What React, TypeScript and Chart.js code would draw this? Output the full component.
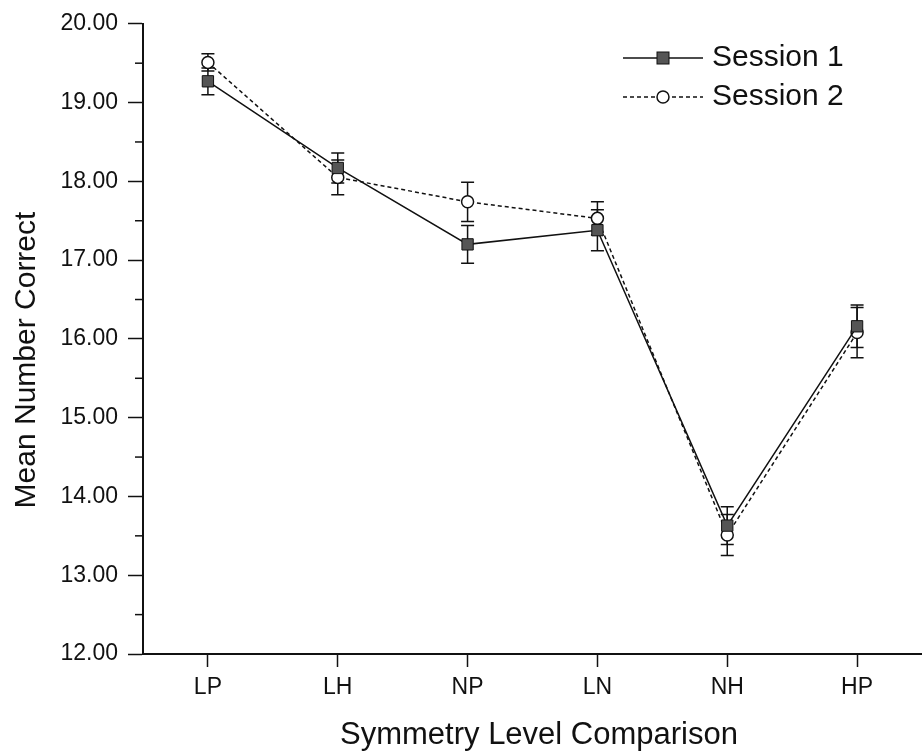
import React, { useEffect, useRef } from "react";
import { Chart, registerables } from "chart.js";

Chart.register(...registerables);

const categories = ["LP", "LH", "NP", "LN", "NH", "HP"];
const session1 = [19.27, 18.17, 17.2, 17.38, 13.63, 16.16];
const session1Err = [0.17, 0.19, 0.24, 0.26, 0.24, 0.27];
const session2 = [19.51, 18.05, 17.74, 17.53, 13.51, 16.08];
const session2Err = [0.11, 0.22, 0.25, 0.21, 0.26, 0.32];
const seriesNames = ["Session 1", "Session 2"];
const yTitle = "Mean Number Correct";
const xTitle = "Symmetry Level Comparison";
const yMin = 12;
const yMax = 20;

const FONT = "'Liberation Sans', Arial, sans-serif";
const INK = "#111";

const errorBarPlugin = {
  id: "errorBars",
  beforeDatasetsDraw(chart: any) {
    const ctx = chart.ctx;
    const y = chart.scales.y;
    const errs = [session1Err, session2Err];
    const vals = [session1, session2];
    ctx.save();
    ctx.strokeStyle = INK;
    ctx.lineWidth = 1.5;
    ctx.setLineDash([]);
    for (let d = 0; d < 2; d++) {
      const meta = chart.getDatasetMeta(d);
      meta.data.forEach((pt: any, i: number) => {
        const x = pt.x;
        const top = y.getPixelForValue(vals[d][i] + errs[d][i]);
        const bot = y.getPixelForValue(vals[d][i] - errs[d][i]);
        ctx.beginPath();
        ctx.moveTo(x, top);
        ctx.lineTo(x, bot);
        ctx.moveTo(x - 6.5, top);
        ctx.lineTo(x + 6.5, top);
        ctx.moveTo(x - 6.5, bot);
        ctx.lineTo(x + 6.5, bot);
        ctx.stroke();
      });
    }
    ctx.restore();
  },
};

const decorPlugin = {
  id: "decor",
  afterDraw(chart: any) {
    const ctx = chart.ctx;
    const y = chart.scales.y;
    const area = chart.chartArea;
    ctx.save();
    // minor ticks on y axis
    ctx.strokeStyle = INK;
    ctx.lineWidth = 1.5;
    for (let v = yMin + 0.5; v < yMax; v += 1) {
      const py = y.getPixelForValue(v);
      ctx.beginPath();
      ctx.moveTo(area.left - 8, py);
      ctx.lineTo(area.left, py);
      ctx.stroke();
    }
    // axis titles
    ctx.fillStyle = INK;
    ctx.textAlign = "center";
    ctx.textBaseline = "middle";
    ctx.font = `31px ${FONT}`;
    ctx.fillText(xTitle, 539, 735);
    ctx.font = `30px ${FONT}`;
    ctx.save();
    ctx.translate(27, 360);
    ctx.rotate(-Math.PI / 2);
    ctx.fillText(yTitle, 0, 0);
    ctx.restore();
    // legend
    const rows = [58, 97];
    rows.forEach((ly, k) => {
      ctx.strokeStyle = INK;
      ctx.lineWidth = 1.5;
      ctx.setLineDash(k === 0 ? [] : [4, 3]);
      ctx.beginPath();
      ctx.moveTo(623, ly);
      ctx.lineTo(703, ly);
      ctx.stroke();
      ctx.setLineDash([]);
      if (k === 0) {
        ctx.fillStyle = "#555";
        ctx.fillRect(657, ly - 6, 12, 12);
        ctx.lineWidth = 1;
        ctx.strokeRect(657, ly - 6, 12, 12);
      } else {
        ctx.fillStyle = "#fff";
        ctx.beginPath();
        ctx.arc(663, ly, 6, 0, Math.PI * 2);
        ctx.fill();
        ctx.lineWidth = 1.5;
        ctx.stroke();
      }
      ctx.fillStyle = INK;
      ctx.font = `30px ${FONT}`;
      ctx.textAlign = "left";
      ctx.textBaseline = "middle";
      ctx.fillText(seriesNames[k], 712, ly);
    });
    ctx.restore();
  },
};

export default function App() {
  const ref = useRef<HTMLCanvasElement | null>(null);
  useEffect(() => {
    if (!ref.current) return;
    const chart = new Chart(ref.current, {
      type: "line",
      data: {
        labels: categories,
        datasets: [
          {
            label: seriesNames[0],
            data: session1,
            borderColor: INK,
            borderWidth: 1.5,
            pointStyle: "rect",
            pointRadius: 8,
            pointBackgroundColor: "#555",
            pointBorderColor: INK,
            pointBorderWidth: 1,
            tension: 0,
          },
          {
            label: seriesNames[1],
            data: session2,
            borderColor: INK,
            borderWidth: 1.5,
            borderDash: [4, 3],
            pointStyle: "circle",
            pointRadius: 6,
            pointBackgroundColor: "#fff",
            pointBorderColor: INK,
            pointBorderWidth: 1.5,
            tension: 0,
          },
        ],
      },
      options: {
        responsive: false,
        animation: false,
        devicePixelRatio: 1,
        layout: { padding: { top: 22, left: 0, right: 0, bottom: 0 } },
        plugins: {
          legend: { display: false },
          tooltip: { enabled: false },
        },
        scales: {
          x: {
            type: "category",
            offset: true,
            grid: {
              display: true,
              drawOnChartArea: false,
              drawTicks: true,
              tickLength: 13,
              tickColor: INK,
              tickWidth: 1.5,
              offset: false,
            },
            border: { display: true, color: INK, width: 2 },
            ticks: {
              color: INK,
              font: { family: FONT, size: 23 },
              padding: 7,
              maxRotation: 0,
            },
            afterFit(scale: any) {
              scale.height = 98;
            },
          },
          y: {
            min: yMin,
            max: yMax,
            grid: {
              display: true,
              drawOnChartArea: false,
              drawTicks: true,
              tickLength: 15,
              tickColor: INK,
              tickWidth: 1.5,
            },
            border: { display: true, color: INK, width: 2 },
            ticks: {
              stepSize: 1,
              color: INK,
              font: { family: FONT, size: 23 },
              padding: 10,
              callback: (v: any) => Number(v).toFixed(2),
            },
            afterFit(scale: any) {
              scale.width = 143;
            },
          },
        },
      },
      plugins: [errorBarPlugin, decorPlugin],
    });
    return () => chart.destroy();
  }, []);
  return (
    <div
      style={{
        position: "fixed",
        left: 0,
        top: 0,
        width: 922,
        height: 752,
        overflow: "hidden",
        background: "#fff",
      }}
    >
      <canvas ref={ref} width={931} height={752} style={{ display: "block" }} />
    </div>
  );
}
